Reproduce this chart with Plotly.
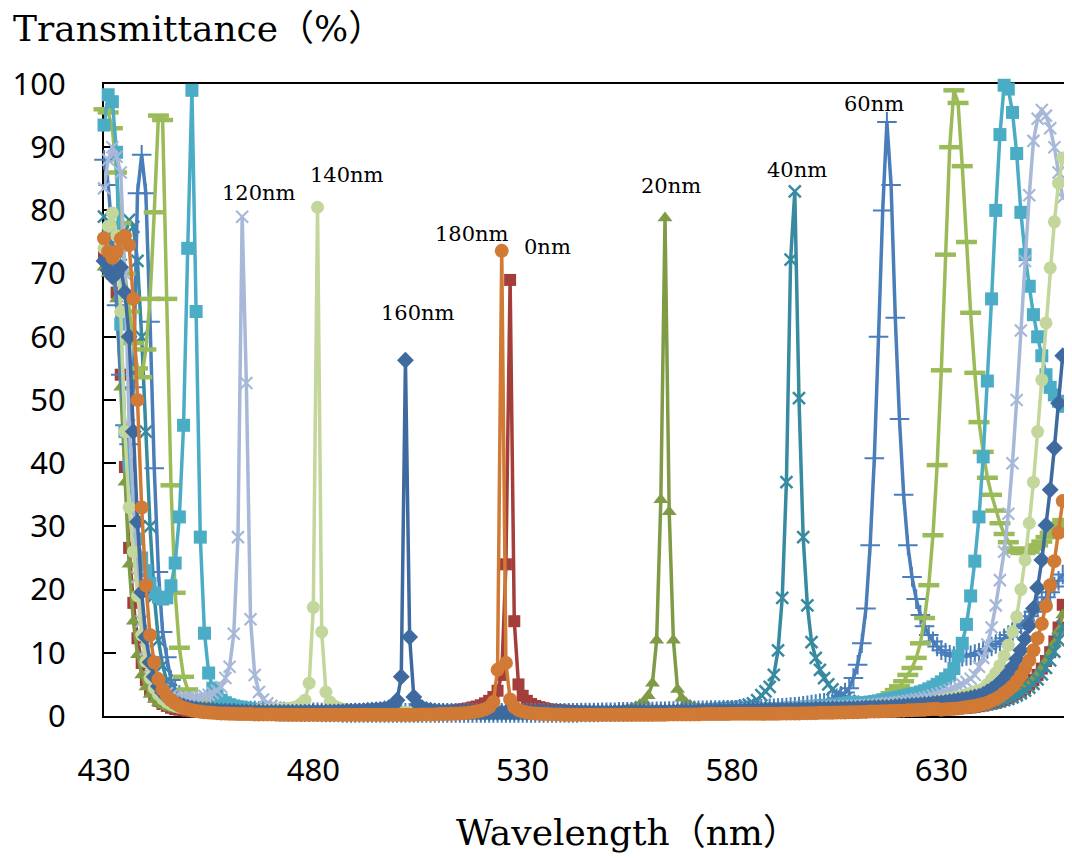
import plotly.graph_objects as go

# Wavelength grid (nm), one sample per nm
WAVELENGTH = list(range(430, 660))

# Transmittance (%) per added thickness, rows of 10 values starting at 430, 440, ... 650 nm
T_0NM = [
    73, 72, 70, 67, 54, 39.4, 26.6, 17.9, 12.3, 8.4,
    5.7, 4.1, 3.1, 2.4, 1.9, 1.6, 1.3, 1.1, 1.0, 0.9,
    0.8, 0.75, 0.7, 0.65, 0.6, 0.6, 0.55, 0.55, 0.5, 0.5,
    0.5, 0.45, 0.45, 0.45, 0.45, 0.4, 0.4, 0.4, 0.4, 0.4,
    0.4, 0.4, 0.4, 0.4, 0.4, 0.4, 0.4, 0.4, 0.4, 0.4,
    0.4, 0.4, 0.4, 0.4, 0.4, 0.4, 0.45, 0.45, 0.45, 0.45,
    0.45, 0.45, 0.5, 0.5, 0.5, 0.5, 0.5, 0.5, 0.55, 0.55,
    0.55, 0.55, 0.6, 0.6, 0.6, 0.65, 0.65, 0.65, 0.7, 0.7,
    0.7, 0.75, 0.8, 0.85, 0.9, 1.0, 1.1, 1.2, 1.35, 1.5,
    1.7, 2.0, 2.4, 3.0, 4.0, 6.5, 24, 69, 15, 5.0,
    3.2, 2.4, 1.9, 1.6, 1.4, 1.25, 1.1, 1.0, 0.95, 0.9,
    0.85, 0.8, 0.75, 0.7, 0.7, 0.65, 0.65, 0.6, 0.6, 0.6,
    0.55, 0.55, 0.55, 0.55, 0.5, 0.5, 0.5, 0.5, 0.5, 0.5,
    0.5, 0.5, 0.5, 0.5, 0.5, 0.5, 0.5, 0.5, 0.5, 0.5,
    0.5, 0.5, 0.5, 0.5, 0.5, 0.5, 0.5, 0.5, 0.5, 0.5,
    0.5, 0.5, 0.5, 0.5, 0.5, 0.5, 0.5, 0.5, 0.55, 0.55,
    0.55, 0.55, 0.55, 0.55, 0.6, 0.6, 0.6, 0.6, 0.6, 0.6,
    0.6, 0.6, 0.65, 0.65, 0.65, 0.65, 0.7, 0.7, 0.7, 0.7,
    0.7, 0.7, 0.75, 0.75, 0.75, 0.75, 0.8, 0.8, 0.8, 0.8,
    0.85, 0.85, 0.85, 0.9, 0.9, 0.9, 0.95, 0.95, 1.0, 1.0,
    1.05, 1.05, 1.1, 1.15, 1.2, 1.25, 1.3, 1.35, 1.45, 1.55,
    1.65, 1.8, 1.95, 2.1, 2.3, 2.55, 2.8, 3.1, 3.5, 3.9,
    4.4, 5.0, 5.7, 6.5, 7.5, 8.7, 10.1, 11.8, 14, 17.6,
]

T_20NM = [
    71, 70, 70.5, 66, 52, 37, 24, 15, 9.7, 6.5,
    4.6, 3.4, 2.6, 2.1, 1.7, 1.45, 1.25, 1.1, 1.0, 0.9,
    0.8, 0.75, 0.7, 0.65, 0.6, 0.55, 0.55, 0.5, 0.5, 0.5,
    0.45, 0.45, 0.45, 0.45, 0.45, 0.4, 0.4, 0.4, 0.4, 0.4,
    0.4, 0.4, 0.4, 0.4, 0.4, 0.4, 0.4, 0.4, 0.4, 0.4,
    0.4, 0.4, 0.4, 0.4, 0.4, 0.4, 0.4, 0.4, 0.4, 0.4,
    0.4, 0.4, 0.4, 0.4, 0.4, 0.4, 0.4, 0.4, 0.4, 0.4,
    0.4, 0.4, 0.4, 0.4, 0.4, 0.4, 0.4, 0.4, 0.4, 0.4,
    0.4, 0.4, 0.4, 0.4, 0.4, 0.4, 0.4, 0.4, 0.4, 0.4,
    0.4, 0.4, 0.4, 0.4, 0.4, 0.4, 0.4, 0.4, 0.4, 0.4,
    0.4, 0.4, 0.4, 0.4, 0.4, 0.45, 0.45, 0.45, 0.45, 0.45,
    0.5, 0.5, 0.5, 0.55, 0.55, 0.6, 0.6, 0.65, 0.7, 0.75,
    0.8, 0.85, 0.9, 0.95, 1.0, 1.1, 1.25, 1.45, 1.8, 2.3,
    3.2, 5.2, 12, 34.2, 78.8, 32.3, 12, 4.2, 2.8, 2.1,
    1.7, 1.45, 1.25, 1.1, 1.0, 0.9, 0.85, 0.8, 0.75, 0.7,
    0.7, 0.65, 0.65, 0.6, 0.6, 0.6, 0.55, 0.55, 0.55, 0.55,
    0.55, 0.55, 0.55, 0.55, 0.55, 0.55, 0.55, 0.55, 0.55, 0.55,
    0.55, 0.55, 0.6, 0.6, 0.6, 0.6, 0.6, 0.65, 0.65, 0.65,
    0.65, 0.7, 0.7, 0.7, 0.75, 0.75, 0.75, 0.8, 0.8, 0.8,
    0.85, 0.85, 0.9, 0.9, 0.95, 0.95, 1.0, 1.0, 1.05, 1.1,
    1.15, 1.2, 1.25, 1.3, 1.35, 1.4, 1.5, 1.6, 1.7, 1.8,
    1.9, 2.0, 2.15, 2.3, 2.5, 2.7, 2.95, 3.25, 3.6, 4.0,
    4.5, 5.1, 5.8, 6.6, 7.6, 8.7, 10, 11.5, 13.5, 16,
]

T_40NM = [
    79, 76, 73, 72, 73, 76, 78.5, 77.4, 72, 60,
    45, 30, 19, 12, 8, 5.6, 4.1, 3.2, 2.6, 2.2,
    1.9, 1.7, 1.5, 1.4, 1.3, 1.2, 1.1, 1.0, 1.0, 0.9,
    0.85, 0.8, 0.8, 0.75, 0.7, 0.7, 0.65, 0.65, 0.6, 0.6,
    0.55, 0.55, 0.55, 0.5, 0.5, 0.5, 0.5, 0.5, 0.45, 0.45,
    0.45, 0.45, 0.45, 0.45, 0.45, 0.45, 0.45, 0.45, 0.45, 0.45,
    0.45, 0.45, 0.45, 0.45, 0.45, 0.45, 0.45, 0.45, 0.45, 0.45,
    0.45, 0.45, 0.45, 0.45, 0.45, 0.45, 0.45, 0.45, 0.45, 0.45,
    0.45, 0.45, 0.45, 0.45, 0.45, 0.45, 0.45, 0.45, 0.45, 0.45,
    0.45, 0.45, 0.45, 0.45, 0.45, 0.45, 0.45, 0.45, 0.45, 0.45,
    0.45, 0.45, 0.45, 0.45, 0.45, 0.45, 0.45, 0.45, 0.45, 0.45,
    0.45, 0.45, 0.45, 0.45, 0.45, 0.5, 0.5, 0.5, 0.5, 0.5,
    0.5, 0.5, 0.5, 0.55, 0.55, 0.55, 0.55, 0.6, 0.6, 0.6,
    0.6, 0.65, 0.65, 0.65, 0.7, 0.7, 0.7, 0.75, 0.75, 0.8,
    0.85, 0.9, 0.95, 1.0, 1.05, 1.1, 1.15, 1.2, 1.25, 1.3,
    1.35, 1.4, 1.5, 1.65, 1.8, 2.0, 2.5, 3.3, 3.9, 4.6,
    6.5, 10.4, 18.7, 37, 72.2, 83, 50.3, 28.3, 17.5, 11.7,
    9.2, 7.3, 6.0, 5.0, 4.2, 3.5, 3.0, 2.7, 2.4, 2.2,
    2.0, 1.85, 1.75, 1.65, 1.55, 1.5, 1.45, 1.4, 1.35, 1.3,
    1.3, 1.25, 1.25, 1.2, 1.2, 1.2, 1.2, 1.2, 1.2, 1.2,
    1.2, 1.25, 1.25, 1.3, 1.35, 1.4, 1.45, 1.5, 1.6, 1.7,
    1.8, 1.9, 2.0, 2.15, 2.3, 2.5, 2.7, 2.95, 3.25, 3.6,
    4.0, 4.5, 5.1, 5.8, 6.6, 7.6, 8.8, 10.2, 12, 14.2,
]

T_60NM = [
    88, 84, 76, 65, 54, 46, 43, 52, 82.7, 88.8,
    82.7, 62.4, 39.2, 22.8, 13.3, 9.3, 5.7, 4.2, 3.3, 2.7,
    2.3, 2.0, 1.8, 1.6, 1.5, 1.4, 1.3, 1.2, 1.15, 1.1,
    1.05, 1.0, 0.95, 0.9, 0.9, 0.85, 0.85, 0.8, 0.8, 0.75,
    0.75, 0.7, 0.7, 0.7, 0.65, 0.65, 0.65, 0.6, 0.6, 0.6,
    0.6, 0.6, 0.55, 0.55, 0.55, 0.55, 0.55, 0.5, 0.5, 0.5,
    0.5, 0.5, 0.5, 0.5, 0.5, 0.5, 0.5, 0.5, 0.5, 0.5,
    0.5, 0.5, 0.5, 0.5, 0.5, 0.5, 0.5, 0.5, 0.5, 0.5,
    0.5, 0.5, 0.5, 0.5, 0.5, 0.5, 0.5, 0.5, 0.5, 0.5,
    0.5, 0.5, 0.5, 0.5, 0.5, 0.5, 0.5, 0.5, 0.5, 0.5,
    0.5, 0.5, 0.5, 0.5, 0.5, 0.5, 0.5, 0.5, 0.5, 0.5,
    0.5, 0.5, 0.5, 0.5, 0.55, 0.55, 0.55, 0.55, 0.55, 0.6,
    0.6, 0.6, 0.6, 0.65, 0.65, 0.65, 0.65, 0.7, 0.7, 0.7,
    0.7, 0.7, 0.75, 0.75, 0.75, 0.8, 0.8, 0.8, 0.8, 0.85,
    0.85, 0.85, 0.9, 0.9, 0.9, 0.95, 0.95, 0.95, 1.0, 1.0,
    1.0, 1.0, 1.05, 1.05, 1.1, 1.1, 1.1, 1.15, 1.15, 1.2,
    1.2, 1.25, 1.3, 1.35, 1.4, 1.45, 1.5, 1.6, 1.7, 1.8,
    1.9, 2.0, 2.1, 2.3, 2.5, 2.8, 3.2, 3.7, 4.4, 6.0,
    8.1, 11.5, 17, 27, 40.8, 60, 80, 94, 84, 63,
    47, 35, 27, 22, 18.5, 16, 14.2, 12.8, 11.8, 11,
    10.4, 10.0, 9.7, 9.5, 9.4, 9.4, 9.5, 9.6, 9.8, 10.0,
    10.3, 10.6, 11.0, 11.4, 11.8, 12.3, 12.8, 13.3, 13.9, 14.5,
    15.1, 15.8, 16.5, 17.2, 18.0, 18.8, 19.6, 20.5, 21.4, 22.4,
]

T_80NM = [
    96, 95.5, 93, 86, 78, 70, 64, 59, 55, 53.6,
    58, 66, 79.7, 95, 94.3, 66, 36.5, 19.5, 10.8, 6.2,
    4.2, 3.1, 2.5, 2.1, 1.85, 1.65, 1.5, 1.4, 1.3, 1.2,
    1.15, 1.1, 1.05, 1.0, 0.95, 0.9, 0.9, 0.85, 0.85, 0.8,
    0.8, 0.75, 0.75, 0.7, 0.7, 0.7, 0.65, 0.65, 0.65, 0.6,
    0.6, 0.6, 0.6, 0.55, 0.55, 0.55, 0.55, 0.55, 0.5, 0.5,
    0.5, 0.5, 0.5, 0.5, 0.5, 0.5, 0.5, 0.5, 0.5, 0.5,
    0.5, 0.5, 0.5, 0.5, 0.5, 0.5, 0.5, 0.5, 0.5, 0.5,
    0.5, 0.5, 0.5, 0.5, 0.5, 0.5, 0.5, 0.5, 0.5, 0.5,
    0.5, 0.5, 0.5, 0.5, 0.5, 0.5, 0.5, 0.5, 0.5, 0.5,
    0.5, 0.5, 0.5, 0.5, 0.5, 0.5, 0.5, 0.5, 0.5, 0.5,
    0.5, 0.5, 0.5, 0.5, 0.5, 0.5, 0.5, 0.55, 0.55, 0.55,
    0.55, 0.55, 0.6, 0.6, 0.6, 0.6, 0.6, 0.6, 0.65, 0.65,
    0.65, 0.65, 0.65, 0.7, 0.7, 0.7, 0.7, 0.75, 0.75, 0.75,
    0.75, 0.8, 0.8, 0.8, 0.8, 0.85, 0.85, 0.85, 0.9, 0.9,
    0.9, 0.95, 0.95, 1.0, 1.0, 1.0, 1.05, 1.05, 1.1, 1.1,
    1.15, 1.15, 1.2, 1.2, 1.25, 1.3, 1.3, 1.35, 1.4, 1.45,
    1.35, 1.4, 1.45, 1.5, 1.55, 1.6, 1.65, 1.7, 1.75, 1.8,
    1.9, 2.0, 2.15, 2.3, 2.5, 2.7, 2.95, 3.25, 3.6, 4.1,
    4.7, 5.5, 6.5, 7.6, 9.2, 11.5, 15.5, 20.7, 28.6, 39.7,
    54.7, 73, 90, 99, 97, 87, 75, 63.8, 54.3, 46.5,
    41.8, 37.7, 35, 32.5, 30.5, 28.8, 27.5, 26.5, 26, 25.8,
    25.8, 26, 26.5, 27, 27.6, 28.3, 29, 29.7, 30.4, 31,
]

T_100NM = [
    93.5, 98.3, 97.2, 89.2, 62, 45, 39.7, 33, 28, 25,
    23, 21, 19.5, 18.8, 18.5, 18.7, 20.6, 24.2, 31.5, 46,
    74, 99, 64, 28.3, 13.1, 6.8, 4.4, 3.2, 2.5, 2.1,
    1.8, 1.6, 1.45, 1.3, 1.2, 1.1, 1.05, 1.0, 0.95, 0.9,
    0.85, 0.8, 0.8, 0.75, 0.75, 0.7, 0.7, 0.7, 0.65, 0.65,
    0.65, 0.6, 0.6, 0.6, 0.6, 0.55, 0.55, 0.55, 0.55, 0.55,
    0.5, 0.5, 0.5, 0.5, 0.5, 0.5, 0.5, 0.5, 0.5, 0.5,
    0.5, 0.5, 0.5, 0.5, 0.5, 0.5, 0.5, 0.5, 0.5, 0.5,
    0.5, 0.5, 0.5, 0.5, 0.5, 0.5, 0.5, 0.5, 0.5, 0.5,
    0.5, 0.5, 0.5, 0.5, 0.5, 0.5, 0.5, 0.5, 0.5, 0.5,
    0.5, 0.5, 0.5, 0.5, 0.5, 0.5, 0.5, 0.5, 0.5, 0.5,
    0.5, 0.5, 0.5, 0.5, 0.5, 0.5, 0.5, 0.5, 0.5, 0.5,
    0.5, 0.5, 0.5, 0.5, 0.55, 0.55, 0.55, 0.55, 0.55, 0.6,
    0.6, 0.6, 0.6, 0.65, 0.65, 0.65, 0.7, 0.7, 0.7, 0.75,
    0.75, 0.8, 0.8, 0.8, 0.85, 0.85, 0.85, 0.9, 0.9, 0.9,
    0.9, 0.9, 0.95, 0.95, 1.0, 1.0, 1.05, 1.05, 1.1, 1.1,
    1.15, 1.15, 1.2, 1.25, 1.3, 1.3, 1.35, 1.4, 1.45, 1.5,
    1.55, 1.6, 1.65, 1.7, 1.8, 1.85, 1.9, 2.0, 2.1, 2.2,
    2.0, 2.05, 2.1, 2.2, 2.3, 2.4, 2.5, 2.6, 2.75, 2.85,
    3.0, 3.15, 3.3, 3.45, 3.6, 3.8, 4.0, 4.3, 4.6, 5.0,
    5.4, 5.9, 6.5, 7.5, 9.5, 11.5, 14.5, 19, 24.5, 31.5,
    41, 53, 66, 80, 92, 99.8, 99.2, 95.5, 89, 79.7,
    73, 68, 63.5, 60, 57, 54, 52, 50.8, 49.8, 49,
]

T_120NM = [
    83.5, 88, 90, 88.5, 86, 70, 46, 33, 22, 15,
    10.5, 7.8, 6.0, 4.9, 4.1, 3.6, 3.2, 3.0, 2.85, 2.8,
    2.8, 2.85, 2.9, 3.0, 3.15, 3.35, 3.6, 4.0, 4.6, 6.0,
    7.8, 13, 28.3, 79, 52.7, 15.3, 6.5, 3.8, 2.6, 2.0,
    1.6, 1.35, 1.2, 1.05, 0.95, 0.9, 0.85, 0.8, 0.75, 0.7,
    0.7, 0.65, 0.65, 0.6, 0.6, 0.6, 0.55, 0.55, 0.55, 0.55,
    0.5, 0.5, 0.5, 0.5, 0.5, 0.5, 0.5, 0.5, 0.5, 0.5,
    0.5, 0.5, 0.5, 0.5, 0.5, 0.5, 0.5, 0.5, 0.5, 0.5,
    0.5, 0.5, 0.5, 0.5, 0.5, 0.5, 0.5, 0.5, 0.5, 0.5,
    0.5, 0.5, 0.5, 0.5, 0.5, 0.5, 0.5, 0.5, 0.5, 0.5,
    0.5, 0.5, 0.5, 0.5, 0.5, 0.5, 0.5, 0.5, 0.5, 0.5,
    0.5, 0.5, 0.5, 0.5, 0.5, 0.5, 0.5, 0.5, 0.5, 0.5,
    0.5, 0.5, 0.5, 0.55, 0.55, 0.55, 0.55, 0.6, 0.6, 0.6,
    0.6, 0.65, 0.65, 0.65, 0.7, 0.7, 0.7, 0.75, 0.75, 0.8,
    0.8, 0.85, 0.85, 0.85, 0.9, 0.9, 0.9, 0.95, 0.95, 0.95,
    1.0, 1.0, 1.0, 1.05, 1.05, 1.05, 1.1, 1.1, 1.1, 1.15,
    1.15, 1.15, 1.2, 1.2, 1.25, 1.25, 1.3, 1.3, 1.3, 1.35,
    1.35, 1.4, 1.4, 1.45, 1.45, 1.5, 1.5, 1.55, 1.55, 1.6,
    1.6, 1.65, 1.7, 1.75, 1.8, 1.85, 1.9, 2.0, 2.05, 2.1,
    2.2, 2.3, 2.4, 2.5, 2.6, 2.7, 2.85, 3.0, 3.2, 3.4,
    3.6, 3.85, 4.1, 4.4, 4.7, 5.0, 5.4, 5.9, 6.5, 7.8,
    9.2, 11.3, 14, 17.5, 21.5, 26, 32, 40, 50, 61,
    72, 82.4, 91, 94.5, 95.9, 95, 93, 90, 86, 82,
]

T_140NM = [
    74, 77.5, 79.6, 76, 64, 45, 33, 26, 19, 12.8,
    8.6, 6.0, 4.4, 3.4, 2.7, 2.2, 1.85, 1.6, 1.4, 1.25,
    1.15, 1.05, 1.0, 0.95, 0.9, 0.85, 0.85, 0.8, 0.8, 0.8,
    0.8, 0.8, 0.8, 0.8, 0.8, 0.8, 0.85, 0.85, 0.9, 0.9,
    0.95, 1.0, 1.05, 1.1, 1.2, 1.3, 1.45, 1.9, 2.5, 5.2,
    17.2, 80.5, 13.3, 3.8, 2.2, 1.6, 1.3, 1.1, 1.0, 0.9,
    0.85, 0.8, 0.75, 0.7, 0.7, 0.65, 0.65, 0.6, 0.6, 0.6,
    0.55, 0.55, 0.55, 0.55, 0.5, 0.5, 0.5, 0.5, 0.5, 0.5,
    0.5, 0.5, 0.5, 0.5, 0.5, 0.5, 0.5, 0.5, 0.5, 0.5,
    0.5, 0.5, 0.5, 0.5, 0.5, 0.5, 0.5, 0.5, 0.5, 0.5,
    0.5, 0.5, 0.5, 0.5, 0.5, 0.5, 0.5, 0.5, 0.5, 0.5,
    0.5, 0.5, 0.5, 0.5, 0.5, 0.5, 0.5, 0.5, 0.5, 0.5,
    0.5, 0.5, 0.5, 0.5, 0.5, 0.55, 0.55, 0.55, 0.55, 0.55,
    0.55, 0.6, 0.6, 0.6, 0.6, 0.6, 0.65, 0.65, 0.65, 0.65,
    0.7, 0.7, 0.7, 0.7, 0.75, 0.75, 0.75, 0.75, 0.8, 0.8,
    0.8, 0.8, 0.85, 0.85, 0.85, 0.85, 0.9, 0.9, 0.9, 0.9,
    0.95, 0.95, 0.95, 1.0, 1.0, 1.0, 1.05, 1.05, 1.05, 1.1,
    1.1, 1.1, 1.15, 1.15, 1.2, 1.2, 1.25, 1.25, 1.3, 1.3,
    1.35, 1.4, 1.4, 1.45, 1.5, 1.55, 1.6, 1.65, 1.7, 1.75,
    1.7, 1.75, 1.8, 1.85, 1.9, 1.95, 2.05, 2.15, 2.25, 2.35,
    2.5, 2.6, 2.75, 2.9, 3.05, 3.2, 3.4, 3.6, 3.85, 4.05,
    4.3, 5.0, 5.8, 6.8, 8.0, 9.5, 11.2, 13.3, 15.7, 20,
    24.7, 30.5, 37, 45, 53.2, 62.2, 70.9, 78.2, 84.3, 88.3,
]

T_160NM = [
    72, 70.5, 69.5, 70, 71, 67, 60, 45, 30.7, 19.6,
    12.5, 8.5, 6.2, 4.7, 3.7, 3.0, 2.5, 2.1, 1.8, 1.6,
    1.4, 1.25, 1.15, 1.05, 1.0, 0.95, 0.9, 0.85, 0.8, 0.8,
    0.75, 0.75, 0.7, 0.7, 0.7, 0.65, 0.65, 0.65, 0.6, 0.6,
    0.6, 0.6, 0.6, 0.6, 0.6, 0.6, 0.6, 0.6, 0.6, 0.6,
    0.6, 0.6, 0.6, 0.65, 0.65, 0.65, 0.7, 0.7, 0.75, 0.75,
    0.8, 0.8, 0.85, 0.9, 0.95, 1.0, 1.05, 1.15, 1.3, 1.6,
    2.5, 6.2, 56.3, 12.5, 3.0, 1.8, 1.3, 1.05, 0.9, 0.8,
    0.75, 0.7, 0.7, 0.65, 0.65, 0.6, 0.6, 0.6, 0.6, 0.6,
    0.55, 0.55, 0.55, 0.55, 0.55, 0.55, 0.55, 0.55, 0.55, 0.55,
    0.55, 0.55, 0.55, 0.55, 0.55, 0.55, 0.55, 0.55, 0.55, 0.55,
    0.55, 0.55, 0.55, 0.55, 0.55, 0.55, 0.55, 0.55, 0.55, 0.55,
    0.55, 0.55, 0.55, 0.55, 0.6, 0.6, 0.6, 0.6, 0.6, 0.6,
    0.6, 0.6, 0.65, 0.65, 0.65, 0.65, 0.65, 0.7, 0.7, 0.7,
    0.7, 0.7, 0.75, 0.75, 0.75, 0.75, 0.8, 0.8, 0.8, 0.8,
    0.85, 0.85, 0.85, 0.85, 0.9, 0.9, 0.9, 0.9, 0.95, 0.95,
    0.95, 0.95, 1.0, 1.0, 1.0, 1.0, 1.05, 1.05, 1.05, 1.05,
    1.1, 1.1, 1.1, 1.1, 1.15, 1.15, 1.15, 1.2, 1.2, 1.2,
    1.25, 1.25, 1.3, 1.3, 1.35, 1.35, 1.4, 1.4, 1.45, 1.5,
    1.55, 1.6, 1.65, 1.7, 1.75, 1.8, 1.85, 1.9, 2.0, 2.05,
    2.1, 2.2, 2.3, 2.4, 2.5, 2.6, 2.7, 2.85, 3.0, 3.15,
    3.4, 3.8, 4.2, 4.7, 5.3, 6.0, 6.8, 7.8, 9.0, 10.4,
    12.2, 14.3, 17, 20.3, 24.7, 30.2, 35.8, 42.4, 49.5, 57,
]

T_180NM = [
    75.6, 73.5, 72.5, 73.5, 75.5, 76, 74.5, 66, 50, 33,
    20.7, 12.8, 8.5, 5.8, 4.2, 3.2, 2.5, 2.0, 1.6, 1.3,
    1.1, 0.9, 0.8, 0.7, 0.6, 0.55, 0.5, 0.45, 0.4, 0.4,
    0.35, 0.35, 0.3, 0.3, 0.3, 0.3, 0.25, 0.25, 0.25, 0.25,
    0.25, 0.25, 0.2, 0.2, 0.2, 0.2, 0.2, 0.2, 0.2, 0.2,
    0.2, 0.2, 0.2, 0.2, 0.2, 0.2, 0.2, 0.2, 0.2, 0.2,
    0.2, 0.2, 0.2, 0.2, 0.2, 0.2, 0.2, 0.2, 0.2, 0.2,
    0.2, 0.2, 0.2, 0.2, 0.2, 0.2, 0.25, 0.25, 0.25, 0.25,
    0.3, 0.3, 0.3, 0.35, 0.35, 0.4, 0.45, 0.5, 0.6, 0.7,
    0.85, 1.05, 1.4, 2.2, 7.3, 73.6, 8.4, 2.6, 1.4, 0.95,
    0.7, 0.55, 0.45, 0.4, 0.35, 0.3, 0.3, 0.25, 0.25, 0.25,
    0.2, 0.2, 0.2, 0.2, 0.2, 0.2, 0.2, 0.2, 0.2, 0.2,
    0.2, 0.2, 0.2, 0.2, 0.2, 0.2, 0.2, 0.2, 0.2, 0.2,
    0.2, 0.2, 0.2, 0.2, 0.2, 0.25, 0.25, 0.25, 0.25, 0.25,
    0.25, 0.25, 0.25, 0.3, 0.3, 0.3, 0.3, 0.3, 0.3, 0.3,
    0.35, 0.35, 0.35, 0.35, 0.35, 0.35, 0.35, 0.35, 0.35, 0.35,
    0.35, 0.35, 0.4, 0.4, 0.4, 0.4, 0.4, 0.45, 0.45, 0.45,
    0.45, 0.5, 0.5, 0.5, 0.5, 0.55, 0.55, 0.55, 0.6, 0.6,
    0.6, 0.65, 0.65, 0.7, 0.7, 0.7, 0.75, 0.75, 0.8, 0.8,
    0.85, 0.85, 0.9, 0.9, 0.95, 1.0, 1.0, 1.05, 1.1, 1.15,
    1.0, 1.05, 1.1, 1.15, 1.2, 1.3, 1.4, 1.5, 1.6, 1.75,
    1.9, 2.1, 2.4, 2.7, 3.1, 3.6, 4.1, 4.7, 5.5, 6.4,
    7.5, 8.8, 10.4, 12.3, 14.6, 17.4, 20.7, 24.5, 29, 34,
]

SERIES_NAMES = ["0nm", "20nm", "40nm", "60nm", "80nm", "100nm", "120nm", "140nm", "160nm", "180nm"]
SERIES_VALUES = [T_0NM, T_20NM, T_40NM, T_60NM, T_80NM, T_100NM, T_120NM, T_140NM, T_160NM, T_180NM]

# peak labels: text, x (nm), y (%)
LABEL_TEXT = ["120nm", "140nm", "160nm", "180nm", "0nm", "20nm", "40nm", "60nm", "80nm", "100nm"]
LABEL_X = [467.0, 488.0, 505.0, 518.0, 536.0, 565.5, 595.5, 614.0, 634.3, 651.0]
LABEL_Y = [82.8, 85.6, 63.8, 76.3, 74.2, 83.8, 86.4, 96.9, 101.7, 105.7]

STYLES = {
    "0nm":   dict(color="#A33E3A", symbol="square", size=12, lw=0),
    "20nm":  dict(color="#7F9B45", symbol="triangle-up", size=13, lw=0),
    "40nm":  dict(color="#378AA0", symbol="x-thin", size=12, lw=2.5),
    "60nm":  dict(color="#4A7EBB", symbol="cross-thin", size=14, lw=2),
    "80nm":  dict(color="#9BBB59", symbol="line-ew", size=15, lw=4.5),
    "100nm": dict(color="#4BACC6", symbol="square", size=13, lw=0),
    "120nm": dict(color="#A7B8D8", symbol="x-thin", size=12, lw=2.2),
    "140nm": dict(color="#C3D69B", symbol="circle", size=13, lw=0),
    "160nm": dict(color="#3E6A9F", symbol="diamond", size=13, lw=0),
    "180nm": dict(color="#D07A35", symbol="circle", size=14, lw=0),
}

for name, vals in zip(SERIES_NAMES, SERIES_VALUES):
    assert len(vals) == len(WAVELENGTH), (name, len(vals))

fig = go.Figure()
for name, vals in zip(SERIES_NAMES, SERIES_VALUES):
    s = STYLES[name]
    marker = dict(symbol=s["symbol"], size=s["size"], color=s["color"])
    if s["lw"]:
        marker["line"] = dict(color=s["color"], width=s["lw"])
    else:
        marker["line"] = dict(width=0)
    fig.add_trace(go.Scatter(
        x=WAVELENGTH, y=vals, name=name, mode="lines+markers",
        line=dict(color=s["color"], width=3.5),
        marker=marker, cliponaxis=False, showlegend=False,
    ))

for t, lx, ly in zip(LABEL_TEXT, LABEL_X, LABEL_Y):
    fig.add_annotation(x=lx, y=ly, xref="x", yref="y", text=t, showarrow=False,
                       font=dict(family="DejaVu Serif", size=21, color="black"),
                       xanchor="center", yanchor="middle")

serif = "DejaVu Serif, Noto Sans CJK JP"
fig.add_annotation(x=(11 - 104) / 960, y=(716 - 29) / 632, xref="paper", yref="paper",
                   text="Transmittance（%）", showarrow=False, xanchor="left", yanchor="middle",
                   font=dict(family=serif, size=36, color="black"))
fig.add_annotation(x=(627 - 104) / 960, y=(716 - 832) / 632, xref="paper", yref="paper",
                   text="Wavelength（nm）", showarrow=False, xanchor="center", yanchor="middle",
                   font=dict(family=serif, size=36, color="black"))

axis_common = dict(
    showline=True, linecolor="black", linewidth=2, mirror=True,
    ticks="inside", ticklen=12, tickwidth=2, tickcolor="black",
    showgrid=False, zeroline=False, layer="below traces", automargin=False,
    tickfont=dict(family="Noto Sans", size=31, color="black"),
)
fig.update_xaxes(range=[430, 659.3], tick0=430, dtick=50, ticklabelstandoff=26, **axis_common)
fig.update_yaxes(range=[0, 100], tick0=0, dtick=10, ticklabelstandoff=30, **axis_common)

# page body adds an 8 px offset; figure size and margins compensate so the plot area
# lands at x 104-1064, y 84-716 of the window
fig.update_layout(
    width=1064, height=850,
    margin=dict(l=96, r=8, t=76, b=142),
    paper_bgcolor="white", plot_bgcolor="white",
)

fig.write_html("out.html")
